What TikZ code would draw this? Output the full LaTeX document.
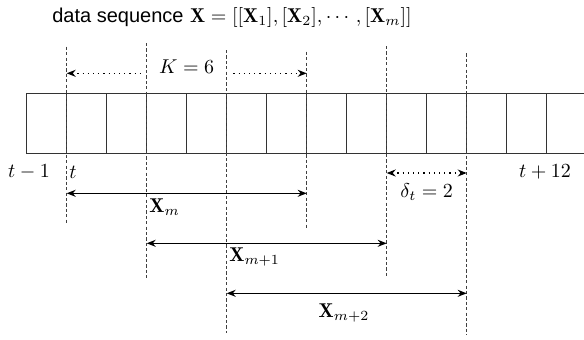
\documentclass[tikz,border=0pt]{standalone}
\usepackage{fontspec}
\newfontfamily\titlefont{Liberation Sans}
\usepackage{amsmath}
\usetikzlibrary{arrows.meta}

\begin{document}
\begin{tikzpicture}[x=0.5pt,y=-0.5pt,line width=0.7pt,>=Stealth,
  cellbox/.style={draw=black!80,line width=0.6pt},
  vline/.style={draw=black!75,line width=0.55pt,dash pattern=on 1.6pt off 1.1pt},
  spanarr/.style={<->,line width=0.6pt,>={Stealth[length=4.5pt,width=3.5pt]}},
  gaparr/.style={<->,line width=0.6pt,dotted,>={Stealth[length=4.5pt,width=3.5pt]}}]
\useasboundingbox (0,0) rectangle (584,339);
% title
\node[anchor=west] (title) at (45,17) {{\titlefont data sequence} $\mathbf{X}=[[\mathbf{X}_1],[\mathbf{X}_2],\cdots,[\mathbf{X}_m]]$};
% cells of the sequence
\foreach \k in {0,...,13} {
  \draw[cellbox] (26.7+\k*40,93.3) rectangle ++(40,60);
}
% ends of the dashed window borders
\foreach \n/\xx/\ya/\yb in {1/66.7/46.7/223,2/146.7/43/280,3/226.7/50/333,
                           4/306.7/51.7/228,5/386.7/46/277,6/466.7/53.3/335} {
  \coordinate (top\n) at (\xx,\ya);
  \coordinate (bot\n) at (\xx,\yb);
}
% window length
\draw[gaparr] (top1 |- 0,73.3) -- node[fill=white,inner xsep=9pt,inner ysep=2pt,yshift=3.5pt] (klab) {$K=6$} (top4 |- 0,73.3);
% dashed window borders
\foreach \n in {1,...,6} {
  \draw[vline] (top\n) -- (bot\n);
}
% time labels
\node (tm1) at (29,172) {$t-1$};
\node[anchor=west,inner sep=1pt] (t0) at (top1 |- 0,172) {$t$};
\node (t12) at (545,172) {$t+12$};
% stride
\draw[gaparr] (top5 |- 0,173) -- (top6 |- 0,173);
\node (dlab) at (426.7,192) {$\delta_t=2$};
% windows
\draw[spanarr] (top1 |- 0,193.3) -- (top4 |- 0,193.3);
\node[anchor=west,inner sep=1pt] (w1) at (146.7,207) {$\mathbf{X}_m$};
\draw[spanarr] (top2 |- 0,243.3) -- (top5 |- 0,243.3);
\node[anchor=west,inner sep=1pt] (w2) at (226.7,257) {$\mathbf{X}_{m+1}$};
\draw[spanarr] (top3 |- 0,293.3) -- (top6 |- 0,293.3);
\node (w3) at (344,313) {$\mathbf{X}_{m+2}$};
\end{tikzpicture}
\end{document}
